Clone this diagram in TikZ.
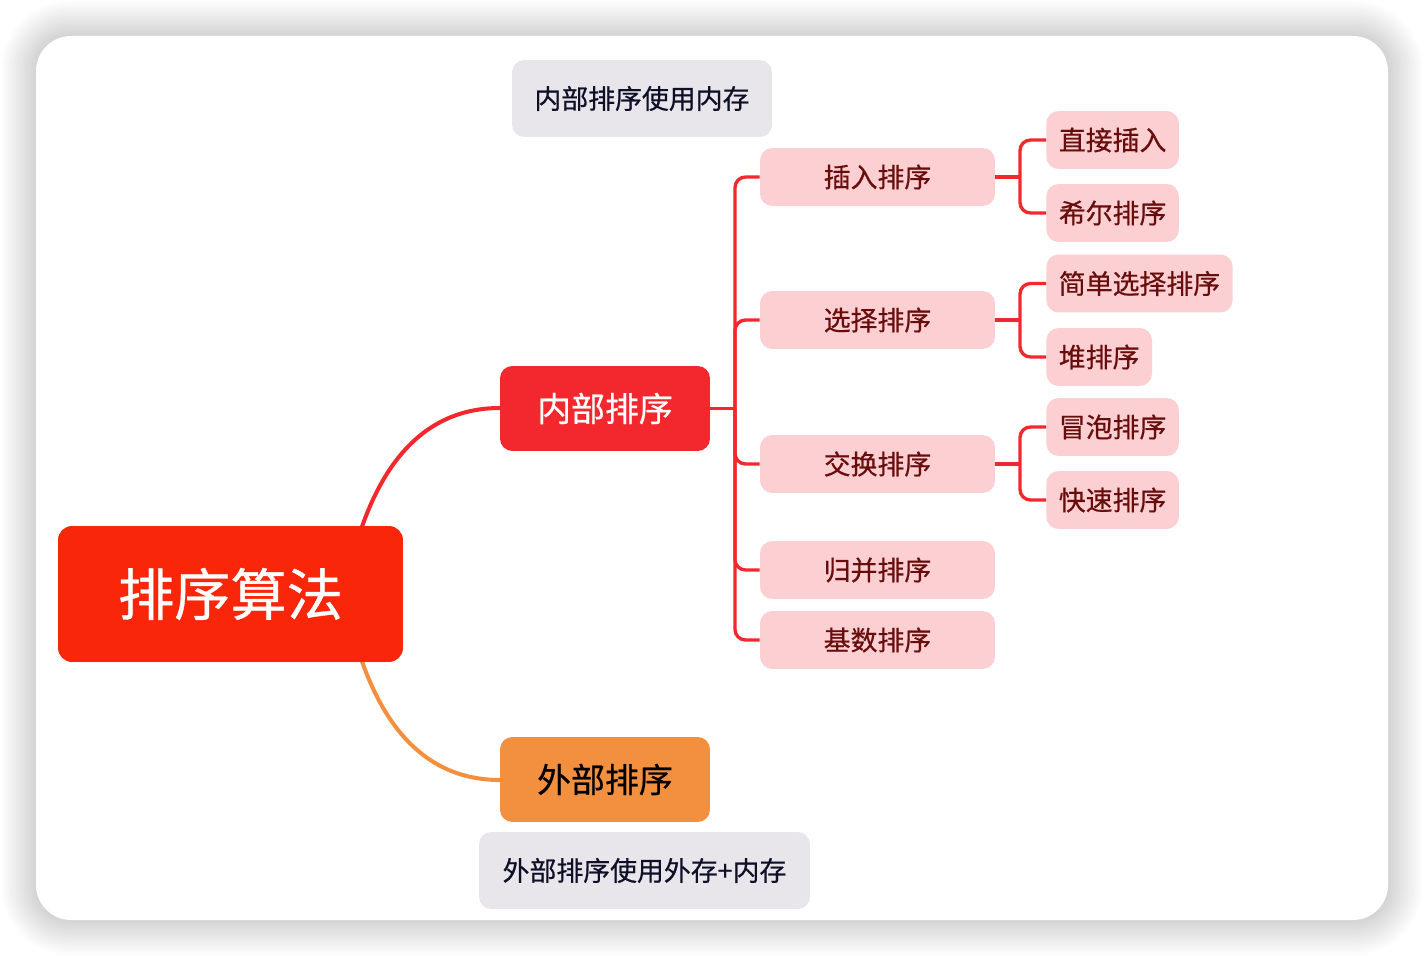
\documentclass[tikz,border=0pt]{standalone}
\usepackage{fontspec}
\setmainfont{Noto Sans CJK SC}[FakeBold=0.6]
\usetikzlibrary{positioning, calc}

\definecolor{rootred}{RGB}{250,38,10}
\definecolor{mainred}{RGB}{243,40,47}
\definecolor{extorange}{RGB}{242,144,64}
\definecolor{leafpink}{RGB}{252,208,211}
\definecolor{leaftext}{RGB}{105,12,12}
\definecolor{notegrey}{RGB}{232,230,235}
\definecolor{notetext}{RGB}{15,15,40}

\begin{document}
\begin{tikzpicture}[x=0.02cm, y=-0.02cm,
        root/.style={rectangle, rounded corners=8pt, fill=rootred, text=white, minimum width=6.9cm, minimum height=2.72cm, inner sep=0pt, font=\fontsize{32}{36}\selectfont},
        topic/.style={rectangle, rounded corners=7pt, minimum width=4.2cm, minimum height=1.7cm, inner sep=0pt, font=\fontsize{19.3}{22}\selectfont},
        sub/.style={rectangle, rounded corners=7pt, fill=leafpink, text=leaftext, minimum width=4.7cm, minimum height=1.16cm, inner sep=0pt, font=\fontsize{15.3}{18}\selectfont},
        leaf/.style={rectangle, rounded corners=7pt, fill=leafpink, text=leaftext, anchor=west, minimum height=1.16cm, inner xsep=0.25cm, inner ysep=0pt, font=\fontsize{15.3}{18}\selectfont},
        note/.style={rectangle, rounded corners=7pt, fill=notegrey, text=notetext, minimum height=1.54cm, inner sep=0pt, font=\fontsize{15.3}{18}\selectfont},
        branch/.style={draw=mainred, line width=1.9pt, rounded corners=6pt}
    ]
        \useasboundingbox (0,0) rectangle (1424,956);

        % Card with a soft shadow
        \foreach \i [evaluate=\i as \r using {(35+2.5*\i)*0.567}] in {1,...,14}
            \fill[black, opacity=0.01, rounded corners=\r pt] ({36-2.5*\i},{36-2.5*\i}) rectangle ({1388+2.5*\i},{920+2.5*\i});
        \fill[white, rounded corners=20pt] (36,36) rectangle (1388,920);

        % Main branches, drawn below the nodes
        \draw[mainred, line width=2.3pt] (352,560) .. controls (375,470) and (420,408) .. (500,408);
        \draw[extorange, line width=2.3pt] (352,628) .. controls (375,718) and (420,780) .. (500,780);

        % Root and the two topics
        \node[root] (sorting) at (230.5,594) {排序算法};
        \node[topic, fill=mainred, text=white] (internal) at (605,408.5) {内部排序};
        \node[topic, fill=extorange, text=black] (external) at (605,779.5) {外部排序};

        % Notes
        \node[note, minimum width=5.2cm] (internalnote) at (642,98.5) {内部排序使用内存};
        \node[note, minimum width=6.62cm] (externalnote) at (644.5,870.5) {外部排序使用外存+内存};

        % Second level
        \node[sub] (insertion) at (877.5,177) {插入排序};
        \node[sub] (selection) at (877.5,320) {选择排序};
        \node[sub] (exchange) at (877.5,464) {交换排序};
        \node[sub] (merge) at (877.5,570) {归并排序};
        \node[sub] (radix) at (877.5,640) {基数排序};

        % Third level
        \node[leaf] (direct) at (1046,140) {直接插入};
        \node[leaf] (shell) at (1046,213) {希尔排序};
        \node[leaf] (simple) at (1046,283.5) {简单选择排序};
        \node[leaf] (heap) at (1046,357) {堆排序};
        \node[leaf] (bubble) at (1046,427) {冒泡排序};
        \node[leaf] (quick) at (1046,500) {快速排序};

        % Forks
        \coordinate (internalfork) at (735,408.5);
        \coordinate (insertionfork) at (1020,177);
        \coordinate (selectionfork) at (1020,320);
        \coordinate (exchangefork) at (1020,464);

        \draw[branch] (internal.east) -- (internalfork);
        \foreach \child in {insertion, selection, exchange, merge, radix}
            \draw[branch] (internalfork) |- (\child.west);

        \draw[branch] (insertion.east) -- (insertionfork);
        \draw[branch] (insertionfork) |- (direct.west);
        \draw[branch] (insertionfork) |- (shell.west);

        \draw[branch] (selection.east) -- (selectionfork);
        \draw[branch] (selectionfork) |- (simple.west);
        \draw[branch] (selectionfork) |- (heap.west);

        \draw[branch] (exchange.east) -- (exchangefork);
        \draw[branch] (exchangefork) |- (bubble.west);
        \draw[branch] (exchangefork) |- (quick.west);
    \end{tikzpicture}
\end{document}
